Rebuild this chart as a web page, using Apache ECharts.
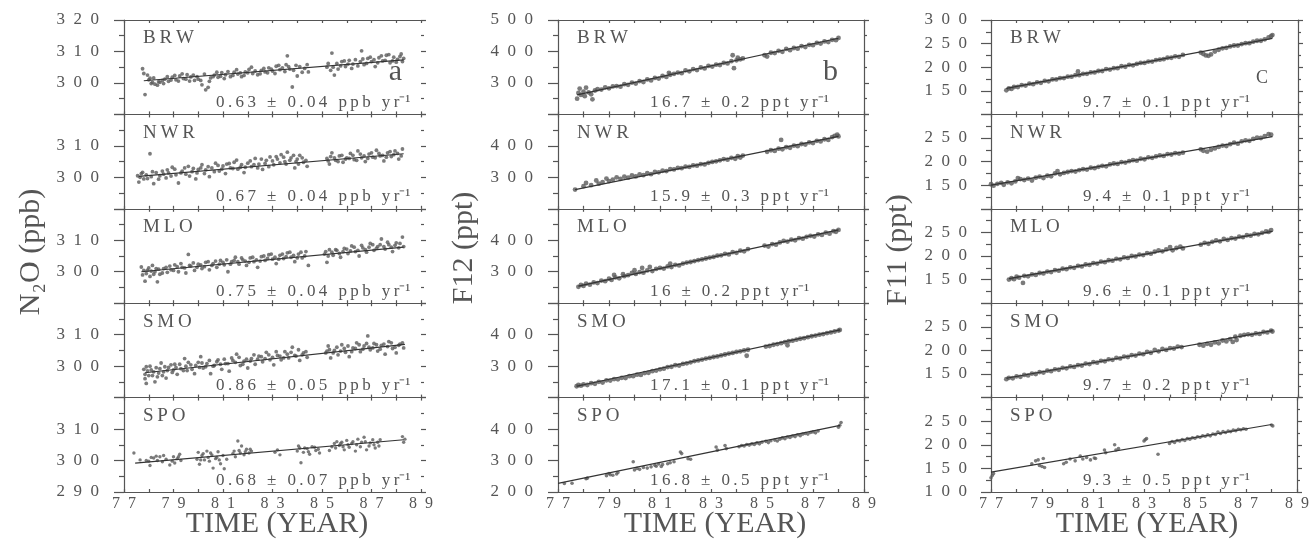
<!DOCTYPE html>
<html><head><meta charset="utf-8">
<script src="https://cdn.jsdelivr.net/npm/echarts@6/dist/echarts.min.js"></script>
<style>html,body{margin:0;padding:0;background:#fff}#c{width:1312px;height:539px}</style>
</head><body><div id="c"></div><script>
// ---------------- data ----------------
const stations = ['BRW','NWR','MLO','SMO','SPO'];
const ratesN2O = ['0.63 ± 0.04','0.67 ± 0.04','0.75 ± 0.04','0.86 ± 0.05','0.68 ± 0.07'];
const ratesF12 = ['16.7 ± 0.2','15.9 ± 0.3','16 ± 0.2','17.1 ± 0.1','16.8 ± 0.5'];
const ratesF11 = ['9.7 ± 0.1','9.4 ± 0.1','9.6 ± 0.1','9.7 ± 0.2','9.3 ± 0.5'];
const yRangeN2O = [290, 320, 10];
const yRangeF12 = [200, 500, 100];
const yRangeF11 = [100, 300, 50];
const xRange = [77, 89];

const n2oBRW = [[77.75,304.5],[77.8,303.0],[77.85,296.3],[77.95,302.5],[78.05,301.5],[78.15,300.2],[78.25,299.6],[78.35,299.3],[78.45,300.2],[78.55,300.8],[78.65,301.2],[78.8,300.5],[78.95,301.8],[79.1,301.0],[79.25,302.2],[79.4,301.4],[79.55,302.6],[79.7,301.9],[79.85,300.8],[80.0,301.2],[80.15,299.4],[80.3,297.8],[80.4,298.6],[80.5,301.6],[80.65,302.5],[80.8,301.8],[80.95,303.3],[81.1,302.6],[81.3,302.0],[81.45,303.4],[81.6,302.8],[81.75,302.0],[81.9,303.5],[82.05,304.3],[82.2,303.0],[82.4,302.6],[82.55,304.0],[82.7,303.5],[82.85,304.8],[83.0,303.8],[83.15,305.3],[83.3,304.2],[83.5,303.6],[83.6,308.6],[83.65,305.2],[83.8,298.7],[83.85,304.0],[84.0,302.2],[84.1,305.2],[84.3,304.6],[84.45,303.5],[85.2,305.0],[85.35,304.0],[85.4,309.5],[85.5,302.5],[85.6,306.2],[85.75,305.4],[85.9,307.0],[86.05,306.0],[86.2,304.6],[86.35,307.4],[86.55,306.8],[86.6,310.2],[86.7,305.8],[86.85,307.8],[87.0,306.8],[87.15,305.2],[87.3,308.0],[87.45,307.0],[87.6,308.8],[87.75,306.4],[87.9,308.2],[88.05,307.5],[88.2,309.2],[88.3,307.8],
 [78.0,301.0],[78.1,299.8],[78.2,301.6],[78.4,300.4],[78.6,299.8],[78.75,302.0],[78.9,300.9],[79.05,302.4],[79.2,300.6],[79.35,302.9],[79.5,301.2],[79.65,300.6],[79.8,302.5],[79.95,302.0],[80.1,300.8],[80.25,302.8],[80.45,300.5],[80.6,302.0],[80.75,303.4],[80.9,302.1],[81.05,301.4],[81.2,303.6],[81.4,302.4],[81.55,304.2],[81.7,303.2],[81.85,302.4],[82.0,303.2],[82.15,305.0],[82.3,303.8],[82.5,302.9],[82.65,304.6],[82.8,303.2],[82.95,304.4],[83.1,303.0],[83.25,305.6],[83.4,304.8],[83.55,305.8],[83.7,304.4],[83.95,305.6],[84.2,303.4],[84.4,305.8],[85.25,306.2],[85.45,305.0],[85.65,304.4],[85.8,306.8],[85.95,305.2],[86.1,307.2],[86.25,306.0],[86.45,305.4],[86.65,307.6],[86.8,306.2],[86.95,308.2],[87.1,307.4],[87.25,306.4],[87.4,308.6],[87.55,307.2],[87.7,309.0],[87.85,307.0],[88.0,306.6],[88.15,308.4],[88.25,306.8]];
const n2oNWR = [[77.55,300.5],[77.6,298.5],[77.7,301.2],[77.8,299.5],[77.9,300.8],[78.05,307.5],[78.1,300.2],[78.2,298.0],[78.3,301.5],[78.45,300.5],[78.55,302.0],[78.7,299.8],[78.8,301.4],[78.95,303.2],[79.1,300.8],[79.2,298.2],[79.35,302.0],[79.5,301.0],[79.6,303.5],[79.75,301.8],[79.9,299.5],[80.0,302.5],[80.15,304.0],[80.3,302.4],[80.45,300.2],[80.55,303.0],[80.7,304.5],[80.85,302.0],[81.0,303.6],[81.1,301.2],[81.25,304.4],[81.4,302.8],[81.55,305.5],[81.7,303.2],[81.85,301.5],[82.0,304.5],[82.15,303.4],[82.3,306.0],[82.45,304.2],[82.6,302.5],[82.75,305.4],[82.9,306.5],[83.05,304.0],[83.2,305.8],[83.35,307.2],[83.5,305.0],[83.6,308.0],[83.75,306.2],[83.9,303.0],[84.0,305.8],[84.1,307.0],[84.25,304.8],[84.4,303.5],[85.2,306.0],[85.3,304.2],[85.4,307.8],[85.55,305.4],[85.7,306.8],[85.85,304.8],[86.0,306.2],[86.15,307.6],[86.3,305.6],[86.45,308.4],[86.6,306.2],[86.75,305.0],[86.9,307.4],[87.05,306.4],[87.2,308.6],[87.35,306.8],[87.5,305.2],[87.65,307.8],[87.8,306.6],[87.95,308.4],[88.1,305.8],[88.25,309.0],
 [77.65,300.0],[77.75,301.6],[77.95,299.6],[78.15,301.8],[78.4,299.4],[78.6,301.0],[78.75,302.4],[78.9,300.4],[79.05,302.6],[79.3,301.4],[79.45,303.0],[79.65,300.4],[79.8,302.8],[79.95,301.4],[80.1,303.0],[80.25,301.2],[80.4,303.4],[80.65,301.8],[80.8,303.8],[80.95,302.6],[81.15,304.2],[81.3,303.0],[81.45,304.8],[81.6,302.6],[81.75,304.0],[81.9,303.2],[82.1,305.2],[82.25,304.0],[82.4,303.0],[82.55,305.8],[82.7,304.4],[82.85,303.4],[83.0,305.2],[83.15,306.6],[83.3,304.6],[83.45,306.4],[83.55,304.2],[83.7,305.4],[83.85,307.0],[83.95,305.0],[84.05,304.2],[84.2,306.2],[84.35,305.4],[85.25,305.2],[85.35,306.6],[85.5,306.2],[85.65,305.0],[85.8,307.0],[85.95,305.8],[86.1,306.0],[86.25,307.0],[86.4,305.4],[86.55,307.4],[86.7,306.8],[86.85,306.0],[87.0,307.8],[87.15,306.2],[87.3,307.6],[87.45,307.0],[87.6,306.4],[87.75,308.2],[87.9,307.2],[88.05,307.6],[88.2,306.8]];
const n2oMLO = [[77.7,301.5],[77.75,299.0],[77.85,297.0],[77.95,300.5],[78.05,298.5],[78.15,302.0],[78.25,300.0],[78.35,296.8],[78.45,299.2],[78.6,301.0],[78.75,299.8],[78.9,300.6],[79.05,302.2],[79.2,300.0],[79.35,301.4],[79.5,299.6],[79.6,305.5],[79.7,301.8],[79.85,300.4],[80.0,302.4],[80.15,301.0],[80.3,303.0],[80.45,300.6],[80.6,302.6],[80.75,301.4],[80.9,303.6],[81.05,302.2],[81.2,300.0],[81.35,303.2],[81.5,304.6],[81.65,302.4],[81.8,303.8],[81.95,302.0],[82.1,304.4],[82.25,303.2],[82.4,301.4],[82.55,304.8],[82.7,303.6],[82.85,305.4],[83.0,304.0],[83.15,302.6],[83.3,305.2],[83.45,304.2],[83.6,306.0],[83.75,304.6],[83.9,303.2],[84.05,305.6],[84.2,304.4],[84.35,306.4],[84.45,302.0],[85.1,305.6],[85.2,303.0],[85.3,307.0],[85.45,305.2],[85.6,306.8],[85.75,304.6],[85.9,307.4],[86.05,305.8],[86.2,308.2],[86.35,306.4],[86.5,305.0],[86.65,307.6],[86.8,306.2],[86.95,309.0],[87.1,306.8],[87.25,308.0],[87.4,310.4],[87.55,307.2],[87.7,308.6],[87.85,306.4],[88.0,309.2],[88.1,307.6],[88.25,311.0],[88.3,308.0],
 [77.8,300.4],[77.9,299.4],[78.0,301.2],[78.1,300.2],[78.2,299.2],[78.3,301.0],[78.4,300.8],[78.55,299.6],[78.7,301.4],[78.85,301.8],[79.0,300.4],[79.15,301.6],[79.3,302.6],[79.45,301.2],[79.65,302.0],[79.8,302.8],[79.95,301.4],[80.1,302.2],[80.25,301.6],[80.4,303.2],[80.55,302.0],[80.7,303.4],[80.85,302.4],[81.0,303.0],[81.15,303.8],[81.3,302.4],[81.45,303.6],[81.6,303.2],[81.75,304.4],[81.9,303.4],[82.05,303.0],[82.2,304.6],[82.35,303.8],[82.5,303.4],[82.65,305.0],[82.8,304.2],[82.95,305.6],[83.1,304.6],[83.25,304.0],[83.4,305.6],[83.55,304.8],[83.7,306.2],[83.85,305.2],[84.0,304.4],[84.15,306.2],[84.3,305.0],[85.15,306.4],[85.25,305.0],[85.4,306.2],[85.55,307.0],[85.7,305.8],[85.85,306.4],[86.0,307.2],[86.15,306.6],[86.3,307.8],[86.45,306.8],[86.6,308.4],[86.75,307.0],[86.9,307.8],[87.05,308.6],[87.2,307.4],[87.35,308.6],[87.5,308.0],[87.65,309.4],[87.8,307.8],[87.95,308.4],[88.15,309.0]];
const n2oSMO = [[77.8,299.0],[77.85,296.0],[77.9,294.5],[77.95,298.5],[78.05,300.0],[78.15,297.0],[78.25,295.0],[78.3,299.5],[78.4,297.8],[78.5,301.0],[78.6,298.2],[78.7,296.2],[78.8,299.6],[78.95,298.0],[79.05,300.6],[79.15,297.4],[79.3,299.2],[79.45,302.4],[79.55,298.6],[79.7,300.4],[79.85,297.6],[80.0,301.2],[80.1,303.0],[80.2,299.4],[80.35,300.8],[80.5,297.6],[80.65,300.2],[80.8,302.0],[80.95,299.0],[81.1,300.8],[81.25,298.4],[81.4,301.8],[81.55,303.8],[81.7,300.2],[81.85,301.6],[82.0,299.4],[82.15,302.4],[82.3,300.6],[82.45,303.2],[82.6,301.4],[82.75,304.4],[82.9,302.0],[83.05,300.4],[83.2,303.4],[83.35,302.0],[83.5,304.6],[83.65,302.6],[83.8,306.0],[83.95,303.2],[84.1,301.8],[84.25,304.2],[84.4,302.8],[85.15,304.2],[85.25,306.4],[85.35,302.6],[85.5,305.0],[85.65,303.6],[85.8,306.8],[85.95,304.4],[86.1,303.0],[86.25,305.8],[86.4,307.4],[86.55,304.6],[86.7,306.4],[86.85,309.6],[86.95,305.2],[87.1,307.2],[87.25,304.8],[87.4,306.6],[87.55,303.8],[87.7,307.8],[87.85,305.6],[88.0,304.2],[88.15,307.0],[88.3,305.8],
 [77.85,297.4],[77.9,299.8],[78.0,297.0],[78.1,298.8],[78.2,298.2],[78.35,296.6],[78.45,299.2],[78.55,297.0],[78.65,299.8],[78.75,298.6],[78.9,300.4],[79.0,298.8],[79.1,299.6],[79.25,300.6],[79.4,298.6],[79.5,300.0],[79.6,301.2],[79.75,299.0],[79.9,300.2],[80.05,299.6],[80.15,301.0],[80.3,299.8],[80.45,301.8],[80.6,300.0],[80.75,301.4],[80.9,300.6],[81.05,302.2],[81.2,300.8],[81.35,302.6],[81.5,301.2],[81.65,302.8],[81.8,300.6],[81.95,302.2],[82.1,301.6],[82.25,303.6],[82.4,302.2],[82.55,303.0],[82.7,302.4],[82.85,303.6],[83.0,302.8],[83.15,304.6],[83.3,303.2],[83.45,302.6],[83.6,303.8],[83.75,304.4],[83.9,303.4],[84.05,305.2],[84.2,303.6],[84.35,304.6],[85.2,304.8],[85.3,305.2],[85.45,304.2],[85.6,306.0],[85.75,304.8],[85.9,305.6],[86.05,306.4],[86.2,304.6],[86.35,305.6],[86.5,306.8],[86.65,305.4],[86.8,307.2],[86.9,306.0],[87.05,305.8],[87.2,306.8],[87.35,305.4],[87.5,307.0],[87.65,306.2],[87.8,307.4],[87.95,306.0],[88.1,306.6],[88.25,307.4]];
const n2oSPO = [[77.4,302.4],[77.65,300.2],[77.9,300.0],[78.05,298.4],[78.2,300.8],[78.3,301.4],[78.45,301.2],[78.55,299.6],[78.7,300.4],[78.85,298.6],[79.0,301.2],[79.05,299.2],[79.15,300.6],[79.25,302.0],[79.3,300.0],[79.95,300.4],[80.0,302.6],[80.05,298.8],[80.15,301.6],[80.25,300.2],[80.35,303.0],[80.45,299.8],[80.55,301.8],[80.6,297.6],[80.7,300.6],[80.8,302.8],[80.9,299.0],[81.0,301.6],[81.05,297.4],[81.15,300.4],[81.4,302.2],[81.5,301.2],[81.6,306.2],[81.65,303.2],[81.75,304.6],[81.85,301.8],[81.95,303.6],[82.05,302.4],[82.15,303.0],[83.1,302.6],[83.2,303.4],[83.3,301.8],[84.0,303.0],[84.1,304.0],[84.15,299.3],[84.25,302.6],[84.4,303.8],[84.5,302.0],[84.6,304.4],[84.75,303.2],[84.9,302.4],[85.3,303.2],[85.5,305.4],[85.6,306.0],[85.7,304.8],[85.8,305.8],[85.9,303.4],[86.0,306.4],[86.1,304.2],[86.2,305.4],[86.35,303.0],[86.45,306.8],[86.55,304.4],[86.7,307.4],[86.8,303.4],[86.95,305.6],[87.05,306.6],[87.15,304.0],[87.25,305.8],[87.35,306.6],[88.25,307.6],[88.3,305.8],[88.35,306.8],
 [78.0,299.8],[78.1,301.0],[78.35,300.0],[78.6,301.6],[78.95,299.8],[79.2,301.2],[80.1,300.2],[80.2,302.2],[80.4,301.0],[80.5,302.4],[80.75,301.0],[80.85,300.2],[81.45,303.0],[81.7,302.4],[81.9,302.8],[82.1,303.6],[84.05,304.6],[84.3,304.0],[84.45,302.8],[84.7,304.2],[84.85,303.6],[85.4,304.4],[85.55,304.0],[85.75,305.4],[85.85,304.4],[86.05,305.0],[86.25,306.0],[86.4,305.0],[86.6,305.8],[86.75,306.0],[86.9,304.6],[87.1,305.0],[87.3,304.6]];

const f12BRW = [[77.75,250],[77.8,268],[77.85,282],[77.9,262],[78.0,272],[78.05,258],[78.1,285],[78.2,270],[78.3,264],[78.35,248],[78.45,276],[78.55,280],[78.7,279],[78.85,286],[79.0,283],[79.15,289],[79.3,290],[79.45,288],[79.6,296],[79.75,294],[79.9,301],[80.05,298],[80.2,306],[80.35,303],[80.5,311],[80.65,308],[80.8,316],[80.95,314],[81.1,322],[81.25,319],[81.35,332],[81.4,326],[81.55,329],[81.7,333],[81.85,331],[82.0,340],[82.15,337],[82.3,344],[82.45,341],[82.6,349],[82.75,346],[82.9,354],[83.05,352],[83.2,358],[83.35,357],[83.5,364],[83.65,362],[83.8,369],[83.85,388],[83.9,347],[84.0,372],[84.05,380],[84.15,375],[84.25,378],[85.1,388],[85.2,384],[85.35,396],[85.5,395],[85.65,402],[85.8,399],[85.95,408],[86.1,404],[86.25,411],[86.4,409],[86.55,417],[86.7,414],[86.85,421],[87.0,420],[87.15,427],[87.3,425],[87.45,432],[87.6,430],[87.75,437],[87.9,436],[88.0,443]];
const f12NWR = [[77.67,261],[78.0,272],[78.1,282],[78.3,275],[78.5,290],[78.6,280],[78.75,285],[78.9,296],[79.0,288],[79.15,293],[79.3,300],[79.45,295],[79.6,302],[79.75,299],[79.9,306],[80.05,303],[80.2,309],[80.35,307],[80.5,313],[80.65,310],[80.8,317],[80.95,316],[81.1,321],[81.25,320],[81.4,326],[81.55,325],[81.7,330],[81.85,329],[82.0,334],[82.15,333],[82.3,338],[82.45,337],[82.6,342],[82.75,341],[82.9,346],[83.05,349],[83.2,351],[83.35,354],[83.5,358],[83.65,356],[83.8,362],[83.95,359],[84.05,367],[84.15,363],[84.25,369],[85.2,381],[85.35,386],[85.5,384],[85.65,391],[85.75,419],[85.8,389],[85.95,396],[86.1,394],[86.25,401],[86.4,399],[86.55,406],[86.7,404],[86.85,411],[87.0,409],[87.15,416],[87.3,414],[87.45,421],[87.6,419],[87.75,428],[87.85,432],[87.95,436],[88.0,430]];
const f12MLO = [[77.8,252],[77.9,258],[78.0,255],[78.1,262],[78.25,259],[78.4,266],[78.55,264],[78.7,272],[78.85,270],[79.0,278],[79.1,274],[79.2,290],[79.25,282],[79.4,279],[79.55,292],[79.6,286],[79.75,289],[79.9,296],[80.0,305],[80.05,293],[80.2,299],[80.3,312],[80.35,297],[80.5,304],[80.6,315],[80.7,302],[80.85,309],[81.0,312],[81.15,310],[81.3,317],[81.4,326],[81.45,315],[81.6,322],[81.75,320],[81.9,326],[82.05,329],[82.2,331],[82.35,334],[82.5,337],[82.65,339],[82.8,342],[82.95,345],[83.1,347],[83.25,351],[83.4,352],[83.55,357],[83.7,355],[83.85,362],[84.0,360],[84.15,367],[84.3,365],[84.45,372],[85.1,383],[85.25,380],[85.4,388],[85.55,386],[85.7,393],[85.85,398],[86.0,396],[86.15,402],[86.3,400],[86.45,407],[86.6,405],[86.75,411],[86.9,414],[87.05,412],[87.2,419],[87.35,417],[87.5,424],[87.65,421],[87.8,429],[87.9,427],[88.0,433]];
const f12SMO = [[77.73,236],[77.8,240],[77.9,238],[78.0,242],[78.15,240],[78.3,246],[78.45,244],[78.6,250],[78.75,248],[78.9,255],[79.05,254],[79.2,259],[79.35,258],[79.5,263],[79.65,262],[79.8,268],[79.95,268],[80.1,273],[80.25,272],[80.4,278],[80.55,279],[80.7,284],[80.85,286],[81.0,290],[81.15,292],[81.3,297],[81.45,298],[81.6,303],[81.75,302],[81.9,307],[82.05,309],[82.2,312],[82.35,316],[82.5,318],[82.65,321],[82.8,324],[82.95,326],[83.1,329],[83.25,331],[83.4,334],[83.55,337],[83.7,340],[83.85,342],[84.0,345],[84.15,347],[84.3,350],[84.4,333],[84.45,352],[85.15,362],[85.3,364],[85.45,368],[85.6,370],[85.75,373],[85.9,376],[86.0,366],[86.05,379],[86.2,381],[86.35,384],[86.5,387],[86.65,389],[86.8,392],[86.95,395],[87.1,397],[87.25,400],[87.4,402],[87.55,405],[87.7,407],[87.85,410],[88.0,413],[88.05,415]];
const f12SPO = [[77.25,227],[77.55,228],[78.1,242],[78.15,244],[78.9,252],[79.0,259],[79.05,255],[79.15,253],[79.3,257],[79.35,262],[79.95,296],[80.0,270],[80.1,275],[80.2,272],[80.35,278],[80.5,276],[80.65,280],[80.8,285],[80.85,282],[80.95,289],[81.05,281],[81.1,287],[81.3,290],[81.4,293],[81.55,296],[81.8,327],[81.85,322],[82.1,306],[82.2,304],[83.2,343],[83.25,333],[83.55,348],[83.6,338],[84.1,344],[84.2,348],[84.3,346],[84.4,351],[84.5,349],[84.6,353],[84.7,351],[84.8,356],[84.9,353],[85.0,358],[85.15,361],[85.25,357],[85.35,363],[85.5,365],[85.6,362],[85.7,368],[85.8,372],[85.9,369],[86.0,375],[86.1,373],[86.2,378],[86.3,376],[86.4,382],[86.5,379],[86.6,384],[86.7,386],[86.8,384],[86.9,389],[87.0,391],[87.1,388],[87.2,394],[88.0,406],[88.05,412],[88.1,421]];

const f11BRW = [[77.6,151],[77.7,155],[77.8,154],[77.9,158],[78.05,158],[78.2,162],[78.35,161],[78.5,165],[78.65,164],[78.8,168],[78.95,167],[79.1,171],[79.25,170],[79.4,174],[79.55,174],[79.7,177],[79.85,177],[80.0,180],[80.15,180],[80.3,183],[80.4,191],[80.45,183],[80.6,186],[80.75,186],[80.9,189],[81.05,189],[81.2,192],[81.35,192],[81.5,196],[81.65,195],[81.8,198],[81.95,198],[82.1,202],[82.25,201],[82.4,205],[82.55,204],[82.7,207],[82.85,209],[83.0,209],[83.15,212],[83.3,212],[83.45,215],[83.6,216],[83.75,217],[83.9,220],[84.05,220],[84.2,223],[84.35,222],[84.5,226],[85.2,231],[85.3,228],[85.4,225],[85.5,224],[85.6,227],[85.75,233],[85.9,237],[86.05,240],[86.2,241],[86.35,244],[86.5,246],[86.65,246],[86.8,249],[86.95,251],[87.1,251],[87.25,254],[87.4,256],[87.55,256],[87.7,259],[87.85,263],[87.95,266],[88.0,268]];
const f11NWR = [[77.0,152],[77.1,149],[77.25,153],[77.4,155],[77.5,151],[77.65,156],[77.8,154],[77.95,158],[78.05,165],[78.15,163],[78.3,161],[78.45,164],[78.6,160],[78.75,166],[78.9,168],[79.05,165],[79.2,170],[79.35,169],[79.5,175],[79.6,180],[79.7,173],[79.85,176],[80.0,178],[80.15,180],[80.3,179],[80.45,182],[80.6,184],[80.75,183],[80.9,187],[81.05,186],[81.2,189],[81.35,191],[81.5,190],[81.65,194],[81.8,196],[81.95,195],[82.1,199],[82.25,198],[82.4,201],[82.55,203],[82.7,202],[82.85,206],[83.0,205],[83.15,209],[83.3,208],[83.45,211],[83.6,213],[83.75,212],[83.9,216],[84.05,215],[84.2,218],[84.35,217],[84.5,219],[85.2,226],[85.3,223],[85.45,221],[85.6,225],[85.75,228],[85.9,231],[86.05,234],[86.2,233],[86.35,237],[86.5,240],[86.65,238],[86.8,243],[86.95,245],[87.1,244],[87.25,248],[87.4,251],[87.55,250],[87.7,254],[87.85,258],[87.95,257]];
const f11MLO = [[77.7,150],[77.8,153],[77.9,151],[78.0,156],[78.1,154],[78.25,143],[78.3,158],[78.45,157],[78.6,161],[78.75,160],[78.9,164],[79.05,163],[79.2,167],[79.35,166],[79.5,170],[79.65,169],[79.8,173],[79.95,172],[80.1,176],[80.25,175],[80.4,179],[80.55,178],[80.7,182],[80.85,181],[81.0,185],[81.15,184],[81.3,188],[81.45,187],[81.6,191],[81.75,190],[81.9,194],[82.05,193],[82.2,197],[82.35,196],[82.5,200],[82.65,199],[82.8,203],[82.95,202],[83.1,206],[83.25,205],[83.4,209],[83.55,212],[83.7,210],[83.85,214],[84.0,219],[84.1,212],[84.25,217],[84.4,220],[84.5,216],[85.2,224],[85.35,228],[85.5,226],[85.65,230],[85.8,233],[85.95,231],[86.1,236],[86.25,234],[86.4,238],[86.55,237],[86.7,241],[86.85,240],[87.0,244],[87.15,243],[87.3,247],[87.45,246],[87.6,249],[87.75,252],[87.85,251],[87.95,255]];
const f11SMO = [[77.6,139],[77.7,142],[77.85,141],[78.0,145],[78.15,144],[78.3,148],[78.45,147],[78.6,151],[78.75,150],[78.9,154],[79.05,153],[79.2,157],[79.35,156],[79.5,160],[79.65,159],[79.8,163],[79.95,162],[80.1,166],[80.25,165],[80.4,169],[80.55,168],[80.7,172],[80.85,171],[81.0,175],[81.15,174],[81.3,178],[81.45,177],[81.6,181],[81.75,180],[81.9,184],[82.05,183],[82.2,187],[82.35,186],[82.5,190],[82.65,189],[82.8,193],[82.95,192],[83.1,197],[83.25,195],[83.4,201],[83.55,198],[83.7,203],[83.85,201],[84.0,205],[84.15,204],[84.3,208],[84.45,207],[85.15,212],[85.3,210],[85.45,214],[85.6,212],[85.75,217],[85.9,215],[86.05,221],[86.2,219],[86.35,224],[86.45,218],[86.55,229],[86.6,222],[86.75,231],[86.9,233],[87.05,234],[87.2,233],[87.35,236],[87.5,235],[87.65,239],[87.8,238],[87.95,242],[88.0,240]];
const f11SPO = [[77.0,130],[77.05,135],[77.1,139],[78.6,160],[78.75,166],[78.85,168],[78.9,156],[79.0,154],[79.05,171],[79.1,152],[79.85,160],[79.95,163],[80.1,170],[80.3,166],[80.5,176],[80.6,170],[80.75,173],[80.9,168],[81.05,172],[81.1,171],[81.45,189],[81.5,183],[81.85,200],[81.9,189],[82.0,192],[83.0,208],[83.05,211],[83.1,213],[83.55,180],[84.0,203],[84.1,207],[84.2,205],[84.3,209],[84.4,208],[84.5,211],[84.6,209],[84.7,213],[84.8,212],[84.9,215],[85.0,214],[85.1,217],[85.2,216],[85.3,219],[85.4,218],[85.5,221],[85.6,219],[85.7,223],[85.8,222],[85.9,227],[86.0,224],[86.1,228],[86.2,226],[86.3,229],[86.4,228],[86.5,231],[86.6,230],[86.7,233],[86.8,232],[86.9,234],[87.0,233],[88.0,242],[88.05,240]];

const trendN2O = [[[77.8,300.7],[88.3,307.3]],[[77.6,300.3],[88.3,307.5]],[[77.7,300.0],[88.3,307.8]],[[77.85,297.9],[88.35,306.9]],[[77.45,299.2],[88.3,306.6]]];
const trendF12 = [[[77.75,262],[88.0,442]],[[77.67,261],[88.0,430]],[[77.8,254],[88.0,433]],[[77.73,236],[88.06,415]],[[77.0,227.5],[88.06,411.7]]];
const trendF11 = [[[77.6,155],[88.0,261]],[[77.0,150],[88.0,253]],[[77.7,152],[88.0,252]],[[77.6,141],[88.0,242]],[[77.0,142],[88.0,243]]];

// ---------------- layout / style ----------------
const INK = '#555';
const FONT = '"Liberation Serif", serif';
const TOP = 20, ROWH = 94.4;
const sp = (s, sep) => String(s).split('').join(sep);
const COLS = [
  {left:124, width:297, data:[n2oBRW,n2oNWR,n2oMLO,n2oSMO,n2oSPO], trend:trendN2O, rates:ratesN2O, unit:'ppb', y:yRangeN2O, rightLine:false,
   labelMargin:25, dot:[3.8,3.8,3.8,3.8,3.4],
   letter:'a', letterSize:30, letterRight:19, yTitle:'N₂O (ppb)', yTitleX:31, yTitleY:252, timeX:277},
  {left:558, width:306, data:[f12BRW,f12NWR,f12MLO,f12SMO,f12SPO], trend:trendF12, rates:ratesF12, unit:'ppt', y:yRangeF12, rightLine:true,
   labelMargin:25, dot:[4.8,4.8,4.8,4.8,3.6],
   letter:'b', letterSize:30, letterRight:26, yTitle:'F12 (ppt)', yTitleX:464, yTitleY:248, timeX:715},
  {left:991, width:307, data:[f11BRW,f11NWR,f11MLO,f11SMO,f11SPO], trend:trendF11, rates:ratesF11, unit:'ppt', y:yRangeF11, rightLine:true,
   labelMargin:24, dot:[4.8,4.8,4.8,4.8,3.6],
   letter:'C', letterSize:18, letterRight:30, yTitle:'F11 (ppt)', yTitleX:898, yTitleY:250, timeX:1147}
];

const grid=[], xAxis=[], yAxis=[], series=[], graphic=[];
const lineStyle = {color:INK, width:1.2};
COLS.forEach((col,c)=>{
  const [ymin,ymax,yint] = col.y;
  for (let r=0;r<5;r++){
    const gi = grid.length;
    const top = TOP + r*ROWH;
    grid.push({left:col.left, top:top, width:col.width, height:ROWH});
    xAxis.push({gridIndex:gi, type:'value', position:'bottom', min:xRange[0], max:xRange[1], interval:1,
      axisLine:{show:true,onZero:false,lineStyle}, axisTick:{show:true,inside:true,length:3,lineStyle},
      axisLabel:{show:r===4, margin:4, color:INK, fontFamily:FONT, fontSize:16,
        formatter:v=> (v%2===1 ? sp(v,'\u2002') : '')},
      splitLine:{show:false}});
    xAxis.push({gridIndex:gi, type:'value', position:'top', min:xRange[0], max:xRange[1], interval:1,
      axisLine:{show:true,onZero:false,lineStyle}, axisTick:{show:true,inside:true,length:3,lineStyle},
      axisLabel:{show:false}, splitLine:{show:false}});
    yAxis.push({gridIndex:gi, type:'value', position:'left', min:ymin, max:ymax, interval:yint,
      axisLine:{show:true,onZero:false,lineStyle}, axisTick:{show:true,inside:false,length:10,lineStyle},
      minorTick:{show:true,splitNumber:2,length:5,lineStyle},
      axisLabel:{margin:col.labelMargin, color:INK, fontFamily:FONT, fontSize:17,
        formatter:v=> ((v===ymax && r>0) || (v===ymin && r<4)) ? '' : sp(v,'\u2002')},
      splitLine:{show:false}});
    yAxis.push({gridIndex:gi, type:'value', position:'right', min:ymin, max:ymax, interval:yint,
      axisLine:{show:col.rightLine,onZero:false,lineStyle}, axisTick:{show:true,inside:false,length:5,lineStyle},
      minorTick:{show:true,splitNumber:2,length:3,lineStyle},
      axisLabel:{show:false}, splitLine:{show:false}});
    series.push({type:'scatter', xAxisIndex:2*gi, yAxisIndex:2*gi, data:col.data[r], symbolSize:col.dot[r],
      itemStyle:{color:'#5a5a5a'}, silent:true});
    series.push({type:'line', xAxisIndex:2*gi, yAxisIndex:2*gi, data:col.trend[r], showSymbol:false,
      lineStyle:{color:'#333', width:1.2}, silent:true, z:3});
    graphic.push({type:'text', left:col.left+19, top:top+9,
      style:{text:sp(stations[r],'\u2009'), font:'19px '+FONT, fill:INK}});
    graphic.push({type:'text', left:col.left+92, top:top+74,
      style:{text:sp(col.rates[r]+' '+col.unit+' yr','\u2009')+'⁻¹', font:'17px '+FONT, fill:INK}});
  }
  graphic.push({type:'text', x:col.left+col.width-col.letterRight, y:TOP+67,
    style:{text:col.letter, font:col.letterSize+'px '+FONT, fill:INK, align:'right', verticalAlign:'bottom'}});
  graphic.push({type:'text', x:col.yTitleX, y:col.yTitleY, rotation:Math.PI/2,
    style:{text:col.yTitle, font:'30px '+FONT, fill:INK, align:'center', verticalAlign:'middle'}});
  graphic.push({type:'text', x:col.timeX, y:524,
    style:{text:'TIME (YEAR)', font:'30px '+FONT, fill:INK, align:'center', verticalAlign:'middle'}});
});

const chart = echarts.init(document.getElementById('c'), null, {renderer:'canvas'});
chart.setOption({animation:false, backgroundColor:'#fff', grid, xAxis, yAxis, series, graphic});
</script></body></html>
